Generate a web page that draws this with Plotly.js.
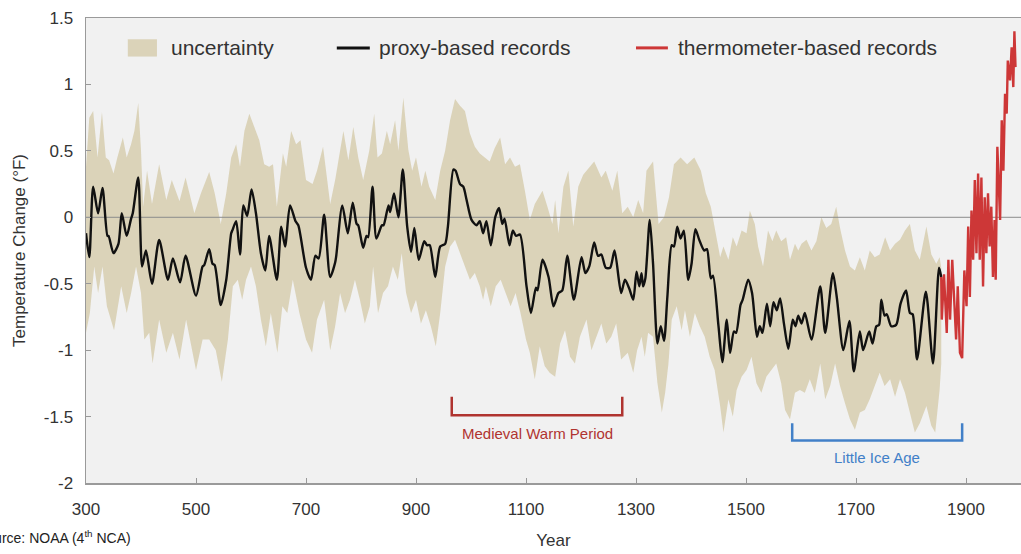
<!DOCTYPE html>
<html>
<head>
<meta charset="utf-8">
<script src="https://cdn.plot.ly/plotly-3.0.1.min.js"></script>
<style>
html,body{margin:0;padding:0;background:#fff;}
#chart{width:1021px;height:554px;}
</style>
</head>
<body>
<div id="chart"></div>
<script>
// ---- Data ----
var proxyYears = [300,306,313,322,330,339,341,350,359,365,374,382,385,395,402,409,420,433,449,458,471,481,500,512,515,524,530,534,545,555,564,566,573,580,586,593,601,609,618,626,633,647,655,662,671,681,686,700,709,717,723,733,744,753,755,766,776,785,792,795,804,810,813,821,828,838,841,850,853,860,868,876,884,891,897,905,915,920,925,935,944,953,958,968,972,980,986,992,1001,1010,1016,1022,1028,1036,1044,1051,1057,1061,1070,1076,1082,1089,1101,1109,1118,1121,1130,1141,1150,1159,1166,1175,1187,1201,1208,1215,1224,1231,1237,1245,1253,1261,1273,1280,1288,1295,1301,1306,1310,1313,1317,1325,1331,1339,1345,1351,1357,1365,1369,1375,1381,1387,1395,1401,1408,1415,1424,1429,1436,1440,1450,1457,1465,1471,1478,1482,1490,1494,1504,1511,1520,1525,1530,1538,1544,1550,1556,1562,1569,1577,1585,1590,1595,1601,1607,1619,1635,1644,1658,1665,1677,1688,1696,1707,1713,1724,1730,1737,1742,1746,1752,1756,1764,1773,1781,1791,1798,1803,1811,1827,1840,1851,1855];
var proxyValues = [-0.12,-0.30,0.23,0.03,0.22,-0.14,-0.14,-0.27,-0.20,0.03,-0.14,-0.01,0.03,0.30,-0.37,-0.25,-0.50,-0.17,-0.47,-0.31,-0.49,-0.29,-0.59,-0.37,-0.36,-0.24,-0.35,-0.36,-0.66,-0.47,-0.12,-0.10,-0.03,-0.28,0.09,0.01,0.21,0.03,-0.27,-0.40,-0.14,-0.47,-0.07,-0.22,0.09,-0.03,-0.06,-0.38,-0.47,-0.29,-0.31,0.02,-0.45,-0.34,-0.29,0.09,-0.12,0.11,-0.05,-0.06,-0.23,-0.14,-0.15,0.23,-0.16,-0.06,-0.06,0.09,0.04,0.18,0.00,0.36,-0.07,-0.26,-0.08,-0.32,-0.18,-0.21,-0.21,-0.45,-0.22,-0.20,-0.07,0.36,0.35,0.25,0.23,0.13,-0.02,-0.06,-0.03,-0.12,-0.03,-0.21,0.00,0.07,-0.05,-0.01,-0.21,-0.10,-0.14,-0.13,-0.52,-0.72,-0.53,-0.55,-0.32,-0.45,-0.67,-0.57,-0.55,-0.29,-0.62,-0.30,-0.42,-0.37,-0.19,-0.29,-0.28,-0.38,-0.38,-0.25,-0.57,-0.47,-0.54,-0.62,-0.41,-0.52,-0.42,-0.52,-0.46,-0.02,-0.35,-0.95,-0.82,-0.93,-0.60,-0.21,-0.22,-0.07,-0.16,-0.10,-0.47,-0.35,-0.09,-0.17,-0.25,-0.24,-0.46,-0.44,-0.82,-1.09,-0.77,-1.02,-0.86,-0.87,-0.66,-0.62,-0.47,-0.57,-0.90,-0.82,-0.87,-0.65,-0.82,-0.64,-0.70,-0.61,-0.80,-0.99,-0.77,-0.82,-0.74,-0.80,-0.72,-0.92,-0.52,-0.87,-0.42,-0.60,-1.00,-0.78,-1.16,-0.86,-1.00,-0.86,-0.95,-0.82,-0.81,-0.62,-0.74,-0.73,-0.82,-0.81,-0.65,-0.55,-0.72,-0.73,-1.07,-0.56,-1.10,-0.38,-0.45];

var upperYears = [300,306,313,321,329,336,342,350,357,367,374,382,388,395,400,404,411,420,433,446,456,470,481,497,509,524,534,545,555,564,573,580,588,597,606,615,624,633,640,647,658,664,673,682,690,700,712,720,731,744,753,768,777,786,795,804,815,824,830,838,847,853,862,868,877,886,893,900,910,917,924,935,944,953,962,971,980,989,998,1007,1016,1025,1034,1043,1053,1062,1071,1080,1089,1098,1107,1116,1130,1139,1148,1153,1159,1168,1177,1186,1195,1204,1215,1224,1237,1245,1257,1266,1275,1285,1295,1304,1313,1319,1331,1341,1351,1360,1369,1381,1393,1406,1418,1427,1436,1444,1453,1459,1468,1476,1483,1492,1501,1507,1516,1522,1531,1540,1548,1555,1564,1573,1580,1589,1595,1601,1610,1619,1628,1637,1646,1655,1664,1671,1680,1689,1698,1707,1716,1725,1734,1743,1753,1762,1771,1780,1789,1798,1807,1816,1828,1837,1846,1852,1855];
var upperValues = [0.38,0.75,0.80,0.45,0.79,0.45,0.43,0.33,0.45,0.60,0.45,0.55,0.65,0.86,0.50,0.08,0.35,0.10,0.40,0.13,0.28,0.12,0.30,0.03,0.18,0.34,0.18,-0.05,0.18,0.45,0.55,0.38,0.65,0.78,0.68,0.58,0.40,0.38,0.40,0.08,0.48,0.38,0.65,0.55,0.58,0.28,0.25,0.35,0.53,0.10,0.28,0.65,0.43,0.68,0.45,0.28,0.50,0.78,0.45,0.48,0.65,0.55,0.73,0.50,0.90,0.51,0.35,0.45,0.23,0.35,0.23,0.13,0.35,0.50,0.73,0.89,0.84,0.80,0.63,0.53,0.48,0.45,0.42,0.52,0.60,0.40,0.45,0.38,0.40,0.20,-0.02,0.10,0.20,0.08,-0.05,0.13,-0.12,0.23,0.35,-0.07,0.23,0.32,0.38,0.42,0.30,0.35,0.20,0.35,0.03,0.08,0.00,0.13,0.03,0.35,0.42,-0.05,0.00,0.15,0.40,0.45,0.40,0.45,0.35,0.18,0.08,-0.10,-0.30,-0.22,-0.32,-0.15,-0.22,-0.10,-0.12,0.05,-0.05,-0.22,-0.37,-0.10,-0.18,-0.10,-0.18,-0.15,-0.32,-0.20,-0.25,-0.20,-0.17,-0.25,-0.18,0.00,-0.08,-0.05,0.08,-0.08,-0.25,-0.37,-0.40,-0.30,-0.40,-0.25,-0.30,-0.28,-0.15,-0.25,-0.20,-0.17,-0.10,-0.05,-0.25,-0.32,-0.07,-0.28,-0.35,-0.30,-0.38];

var lowerYears = [300,307,315,322,330,338,351,364,374,382,391,400,406,415,421,433,446,458,470,482,500,512,524,536,547,558,567,576,584,591,600,609,618,627,636,648,657,666,676,688,700,711,720,733,744,753,762,771,780,789,798,807,816,822,831,840,849,858,867,874,882,891,900,909,918,927,936,944,953,962,971,980,989,998,1007,1016,1022,1027,1036,1045,1054,1063,1072,1081,1090,1100,1107,1116,1125,1134,1143,1153,1162,1171,1180,1189,1198,1210,1219,1228,1237,1246,1255,1264,1273,1285,1295,1302,1310,1316,1322,1331,1339,1347,1353,1359,1365,1374,1383,1389,1398,1407,1416,1425,1434,1443,1453,1459,1468,1476,1483,1492,1501,1510,1519,1528,1537,1546,1555,1564,1571,1580,1589,1598,1607,1616,1625,1635,1644,1653,1662,1671,1680,1689,1698,1707,1716,1725,1734,1743,1752,1762,1771,1780,1789,1798,1807,1816,1828,1837,1844,1852,1855];
var lowerValues = [-0.87,-0.72,-0.37,-0.57,-0.37,-0.67,-0.85,-0.52,-0.72,-0.57,-0.37,-0.57,-0.92,-0.87,-1.10,-0.77,-1.02,-0.87,-1.07,-0.77,-1.15,-0.92,-0.92,-1.00,-1.24,-0.92,-0.52,-0.47,-0.62,-0.47,-0.37,-0.52,-0.77,-0.97,-0.72,-1.02,-0.67,-0.72,-0.47,-0.72,-0.92,-1.02,-0.77,-0.62,-1.00,-0.82,-0.57,-0.72,-0.62,-0.47,-0.62,-0.80,-0.67,-0.37,-0.72,-0.57,-0.52,-0.37,-0.47,-0.27,-0.57,-0.72,-0.62,-0.80,-0.70,-0.82,-0.97,-0.72,-0.37,-0.22,-0.17,-0.27,-0.37,-0.47,-0.42,-0.52,-0.62,-0.52,-0.67,-0.52,-0.47,-0.57,-0.67,-0.57,-0.72,-0.92,-1.02,-1.22,-0.97,-1.12,-1.17,-1.20,-0.95,-0.85,-1.05,-1.10,-0.90,-0.77,-1.00,-0.90,-0.80,-0.95,-0.90,-0.80,-1.07,-1.02,-1.17,-1.00,-0.90,-1.05,-0.87,-0.90,-1.25,-1.47,-1.32,-1.10,-0.77,-0.67,-0.85,-0.70,-0.90,-0.72,-0.82,-0.90,-1.05,-1.15,-1.42,-1.62,-1.37,-1.50,-1.30,-1.20,-1.15,-1.05,-1.25,-1.32,-1.20,-1.15,-1.10,-1.25,-1.45,-1.52,-1.32,-1.30,-1.32,-1.22,-1.32,-1.10,-1.37,-1.27,-1.10,-1.27,-1.40,-1.52,-1.60,-1.47,-1.45,-1.37,-1.27,-1.17,-1.27,-1.22,-1.35,-1.22,-1.32,-1.47,-1.62,-1.55,-1.42,-1.57,-1.62,-1.30,-1.10];

var thermoYears = [1855,1856,1860,1865,1868,1871,1875,1879,1882,1885,1889,1893,1897,1901,1904,1907,1910,1913,1916,1919,1922,1925,1928,1931,1934,1937,1940,1943,1946,1949,1952,1954,1957,1962,1965,1968,1971,1974,1976,1980,1983,1986,1988,1990];
var thermoValues = [-0.45,-0.77,-0.43,-0.87,-0.32,-0.77,-0.32,-0.65,-0.92,-0.52,-1.02,-1.06,-0.40,-0.67,-0.07,-0.60,0.05,-0.32,0.28,-0.27,0.33,-0.32,0.30,-0.52,0.15,-0.27,0.18,-0.22,0.08,-0.45,-0.02,-0.47,0.53,-0.02,0.73,0.35,0.93,0.78,1.18,1.03,1.28,0.98,1.40,1.13];

var xRange = [300, 2000];
var yRange = [-2, 1.5];
var xTicks = [300,500,700,900,1100,1300,1500,1700,1900];
var xTickLabels = ['300','500','700','900','1100','1300','1500','1700','1900'];
var yTicks = [-2,-1.5,-1,-0.5,0,0.5,1,1.5];
var yTickLabels = ['-2','-1.5','-1','-0.5','0','0.5','1','1.5'];

var legendLabels = ['uncertainty','proxy-based records','thermometer-based records'];
var periodLabels = ['Medieval Warm Period','Little Ice Age'];
var medievalSpan = [965, 1275];
var iceAgeSpan = [1584, 1893];

// ---- Styles ----
var bandColor = 'rgba(214,204,172,0.82)';
var proxyColor = '#111111';
var thermoColor = 'rgb(205,55,55)';
var medievalColor = 'rgb(176,52,48)';
var iceColor = 'rgb(66,128,200)';
var textColor = '#333333';
var fontFam = '"Liberation Sans", Arial, sans-serif';

var bandX = upperYears.concat(lowerYears.slice().reverse());
var bandY = upperValues.concat(lowerValues.slice().reverse());

var traces = [
  {x: bandX, y: bandY, type:'scatter', mode:'lines', fill:'toself', fillcolor: bandColor,
   line:{width:0, color:bandColor}, hoverinfo:'skip', showlegend:false},
  {x: xRange, y: [0,0], type:'scatter', mode:'lines', line:{color:'#8c8c8c', width:1},
   hoverinfo:'skip', showlegend:false},
  {x: proxyYears, y: proxyValues, type:'scatter', mode:'lines',
   line:{color:proxyColor, width:2.4, shape:'spline', smoothing:0.7}, showlegend:false},
  {x: thermoYears, y: thermoValues, type:'scatter', mode:'lines',
   line:{color:thermoColor, width:2.4}, showlegend:false}
];

function bracketPath(span, yTop, yBot){
  return 'M '+span[0]+' '+yTop+' L '+span[0]+' '+yBot+' L '+span[1]+' '+yBot+' L '+span[1]+' '+yTop;
}

var shapes = [
  {type:'path', xref:'x', yref:'y', path: bracketPath(medievalSpan, -1.35, -1.49),
   line:{color:medievalColor, width:2.5}},
  {type:'path', xref:'x', yref:'y', path: bracketPath(iceAgeSpan, -1.55, -1.68),
   line:{color:iceColor, width:2.5}},
  // legend keys
  {type:'rect', xref:'x', yref:'y', x0:376, x1:429, y0:1.21, y1:1.34,
   fillcolor:bandColor, line:{width:0}},
  {type:'line', xref:'x', yref:'y', x0:756, x1:816, y0:1.275, y1:1.275,
   line:{color:proxyColor, width:3}},
  {type:'line', xref:'x', yref:'y', x0:1300, x1:1358, y0:1.275, y1:1.275,
   line:{color:thermoColor, width:3}}
];

var annotations = [
  {xref:'x', yref:'y', x:451, y:1.275, text:legendLabels[0], showarrow:false, xanchor:'left', yanchor:'middle',
   font:{family:fontFam, size:21, color:textColor}},
  {xref:'x', yref:'y', x:829, y:1.275, text:legendLabels[1], showarrow:false, xanchor:'left', yanchor:'middle',
   font:{family:fontFam, size:21, color:textColor}},
  {xref:'x', yref:'y', x:1373, y:1.275, text:legendLabels[2], showarrow:false, xanchor:'left', yanchor:'middle',
   font:{family:fontFam, size:21, color:textColor}},
  {xref:'x', yref:'y', x:(medievalSpan[0]+medievalSpan[1])/2, y:-1.63, text:periodLabels[0], showarrow:false,
   xanchor:'center', yanchor:'middle', font:{family:fontFam, size:15, color:medievalColor}},
  {xref:'x', yref:'y', x:(iceAgeSpan[0]+iceAgeSpan[1])/2, y:-1.81, text:periodLabels[1], showarrow:false,
   xanchor:'center', yanchor:'middle', font:{family:fontFam, size:15, color:iceColor}},
  {xref:'paper', yref:'paper', x:-0.119, y:-0.116, text:'Source: NOAA (4<sup>th</sup> NCA)', showarrow:false,
   xanchor:'left', yanchor:'middle', font:{family:fontFam, size:14, color:'#222'}}
];

var layout = {
  width:1021, height:554,
  margin:{l:86, r:0, t:18, b:71, pad:0},
  paper_bgcolor:'#ffffff',
  plot_bgcolor:'#f1f1f1',
  showlegend:false,
  font:{family:fontFam, color:textColor},
  xaxis:{
    range:xRange, tickmode:'array', tickvals:xTicks, ticktext:xTickLabels,
    ticks:'inside', ticklen:5, tickcolor:'#999', tickwidth:1,
    showline:true, linecolor:'#9a9a9a', linewidth:1.5, mirror:true,
    showgrid:false, zeroline:false,
    tickfont:{family:fontFam, size:17, color:textColor},
    ticklabelstandoff:10,
    title:{text:'Year', font:{family:fontFam, size:17, color:textColor}, standoff:16}
  },
  yaxis:{
    range:yRange, tickmode:'array', tickvals:yTicks, ticktext:yTickLabels,
    ticks:'inside', ticklen:5, tickcolor:'#999', tickwidth:1,
    showline:true, linecolor:'#9a9a9a', linewidth:1.5, mirror:false,
    showgrid:false, zeroline:false,
    tickfont:{family:fontFam, size:17, color:textColor},
    ticklabelstandoff:8,
    title:{text:'Temperature Change (°F)', font:{family:fontFam, size:17, color:textColor}, standoff:14}
  },
  shapes:shapes,
  annotations:annotations
};

Plotly.newPlot('chart', traces, layout, {displayModeBar:false, staticPlot:true});
</script>
</body>
</html>
